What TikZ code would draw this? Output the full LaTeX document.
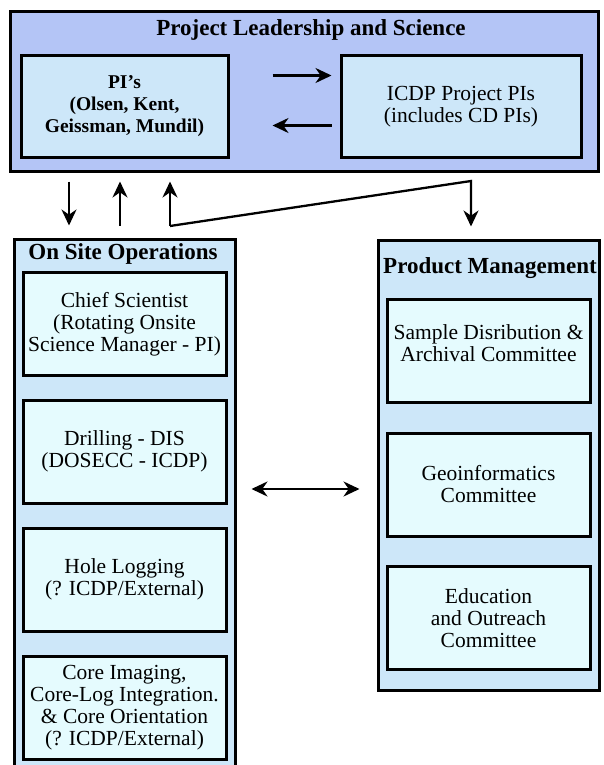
\documentclass[tikz,border=0pt]{standalone}
\usepackage{fontspec}
\setmainfont{Liberation Serif}
\usetikzlibrary{arrows.meta}
\definecolor{leadblue}{RGB}{180,197,246}
\definecolor{groupblue}{RGB}{205,231,249}
\definecolor{itemcyan}{RGB}{229,251,254}
\tikzset{
  leadbox/.style={draw=black,line width=3pt,fill=leadblue},
  groupbox/.style={draw=black,line width=3pt,fill=groupblue},
  itembox/.style={draw=black,line width=3pt,fill=itemcyan,align=center,inner sep=0pt,
    minimum width=203pt,minimum height=103pt,font=\fontsize{21.5}{22}\selectfont},
  heading/.style={font=\fontsize{23}{24}\selectfont\bfseries},
  flow/.style={line width=2.3pt,-{Stealth[length=16pt,width=15pt]}},
  twoway/.style={line width=2.3pt,{Stealth[length=16pt,width=15pt]}-{Stealth[length=16pt,width=15pt]}},
}
\begin{document}
\begin{tikzpicture}[x=1pt,y=-1pt]
        \useasboundingbox (0,0) rectangle (603,765);
        % leadership
        \node[leadbox,minimum width=588pt,minimum height=159pt] (lead) at (304,91.5) {};
        \node[heading] (leadtitle) at (311,30) {Project Leadership and Science};
        \node[itembox,fill=groupblue,minimum width=207pt,minimum height=101pt,font=\fontsize{19.5}{22}\selectfont\bfseries] (pis) at (124.5,106.5) {PI's\\(Olsen, Kent,\\Geissman, Mundil)};
        \node[itembox,fill=groupblue,minimum width=240pt,minimum height=101pt] (icdp) at (461,106.5) {ICDP Project PIs\\(includes CD PIs)};
        \draw[flow,shorten <=43pt,shorten >=8pt] ([yshift=31pt]pis.east) -- ([yshift=31pt]icdp.west);
        \draw[flow,shorten <=8pt,shorten >=43pt] ([yshift=-19pt]icdp.west) -- ([yshift=-19pt]pis.east);
        % on site
        \node[groupbox,minimum width=221pt,minimum height=545pt] (ops) at (124.5,511.5) {};
        \node[heading] (opstitle) at (123,254) {On Site Operations};
        \node[itembox] (chief) at (124.5,324) {Chief Scientist\\(Rotating Onsite\\Science Manager - PI)};
        \node[itembox] (drill) at (124.5,451.5) {Drilling - DIS\\(DOSECC - ICDP)};
        \node[itembox] (hole) at (124.5,579.5) {Hole Logging\\(? ICDP/External)};
        \node[itembox] (core) at (124.5,708) {Core Imaging,\\Core-Log Integration.\\\& Core Orientation\\(? ICDP/External)};
        % products
        \node[groupbox,minimum width=221pt,minimum height=450pt] (prod) at (488.5,465) {};
        \node[heading] (prodtitle) at (490,268) {Product Management};
        \node[itembox] (sample) at (488.5,350.5) {Sample Disribution \&\\Archival Committee\\[-8pt]};
        \node[itembox] (geo) at (488.5,484.5) {Geoinformatics\\Committee};
        \node[itembox] (edu) at (488.5,618) {Education\\and Outreach\\Committee};
        % links
        \coordinate (down) at (69,0);
        \coordinate (up) at (120,0);
        \coordinate (foot) at (170,226);
        \coordinate (bend) at (471,181);
        \coordinate (mid) at (305,489);
        \draw[flow,shorten <=9pt,shorten >=12pt] (lead.south -| down) -- (ops.north -| down);
        \draw[flow,shorten <=12pt,shorten >=9pt] (ops.north -| up) -- (lead.south -| up);
        \draw[flow,shorten >=9pt] (foot) -- (lead.south -| foot);
        \draw[flow,shorten >=12pt,line join=miter] (foot) -- (bend) -- (prod.north -| bend);
        \draw[twoway,shorten <=15pt,shorten >=17pt] (ops.east |- mid) -- (prod.west |- mid);
\end{tikzpicture}
\end{document}
